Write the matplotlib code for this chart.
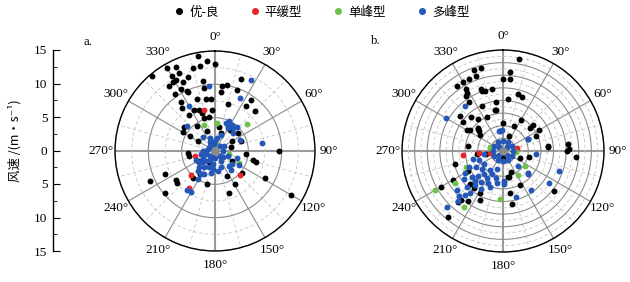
import numpy as np
import matplotlib
matplotlib.use('Agg')
import matplotlib.pyplot as plt
from matplotlib.lines import Line2D

plt.rcParams['font.family'] = ['Liberation Serif', 'Noto Sans CJK SC', 'DejaVu Sans']

# categories / colours
cats = ['优-良', '平缓型', '单峰型', '多峰型']
colors = ['black', '#e8262a', '#6cc24a', '#2457b8']

# ---- panel a: (direction deg, speed m/s) ----
a_good = [(320,14.7),(330,14.4),(335,13.9),(335,12.9),(330,13.0),(329,12.1),(331,12.1),(325,11.9),
          (325,10.4),(331,10.6),(335,11.4),(335,10.0),(335,9.7),(340,11.8),(345,12.9),(350,13.0),
          (350,14.5),(355,13.5),(0,13.0),(350,10.7),(350,9.6),(341,8.3),(350,7.9),(356,7.8),(356,6.2),
          (325,9.0),(322,8.1),(324,6.6),(333,6.9),(338,6.6),(341,6.0),(341,5.2),(350,5.2),(6,9.8),
          (6,8.9),(10,10.0),(20,9.8),(15,7.3),(20,11.5),(35,9.4),(35,8.2),(45,8.5),(308,5.9),(301,4.4),
          (325,4.6),(338,3.3),(35,3.9),(52,4.4),(301,5.6),(90,9.6),(120,13.2),(119,8.5),(129,5.2),
          (149,5.7),(162,6.7),(155,4.1),(104,5.8),(105,6.4),(95,4.6),(194,5.1),(213,4.1),(219,5.2),
          (245,8.3),(245,10.8),(234,7.3),(230,7.5),(230,9.8),(266,4.0),(259,4.0),(240,3.0),(18,2.8),
          (60,3.0),(75,2.5),(120,3.0),(200,2.0),(300,3.0),(10,3.6),(70,4.2)]
a_flat = [(345,6.4),(225,5.1),(134,5.2),(215,6.8),(255,3.1)]
a_single = [(337,4.2),(5,4.2),(50,6.2),(116,4.0),(103,2.1),(30,1.0)]
a_multi = [(27,12.0),(355,9.8),(25,8.8),(330,7.8),(312,5.7),(319,2.7),(215,7.2),(210,7.1),(211,4.9),
           (211,4.1),(191,3.3),(185,2.75),(136,3.1),(126,3.2),(107,3.4),(80,7.2),(28,4.3),(33,4.6),
           (38,4.4),(42,4.9),(25,5.0),(30,4.0),(22,4.5),(45,3.8),(66,4.1),(200,1.0),(210,1.5),(220,2.0),
           (230,2.5),(240,2.0),(250,1.5),(260,2.2),(270,1.8),(280,1.2),(190,2.0),(180,1.0),(200,2.5),
           (215,3.0),(225,3.5),(235,3.0),(245,3.2),(220,4.0),(205,3.8),(350,1.0),(0,1.5),(10,2.0),
           (20,2.5),(340,2.0),(330,1.5),(300,1.0),(60,1.5),(90,1.2),(110,2.0),(130,1.5),(150,1.8),
           (160,2.5),(170,3.0),(140,3.8),(120,4.2),(45,1.0),(135,1.0),(225,1.0),(315,1.0)]

# ---- panel b ----
b_good = [(10,7.4),(5,6.3),(5.5,5.75),(0,5.7),(5,4.1),(15,4.7),(19.5,4.5),(345,6.8),(340,6.8),(340,6.3),
          (335,6.3),(330,6.3),(325,6.3),(329,5.7),(328,5.4),(340,5.2),(341,5.0),(343,5.0),(350,5.0),
          (325,4.7),(352,3.9),(351,3.3),(335,3.0),(322,3.25),(316,3.7),(309,4.4),(306,3.9),(311,2.6),
          (313,2.7),(300,3.3),(305,2.2),(0,2.2),(21,1.3),(30,2.8),(50,2.8),(49,3.1),(60,3.3),(65,2.85),
          (24,2.2),(84,3.6),(84,5.2),(88,5.2),(95,5.8),(90,5.1),(85,3.55),(128,5.1),(154,3.0),(170,4.3),
          (171,3.4),(169,2.1),(160,1.8),(103,2.1),(111,1.45),(255,3.9),(240,4.6),(240,5.7),(225,3.7),
          (218,3.7),(209,3.8),(205,4.3),(215,4.8),(221,5.4),(221,5.1),(220,6.8),(241,3.2),(264,2.1),
          (180,0.5),(259,1.4),(326,5.3),(310,2.5),(278,2.8),(349,3.3),(302,3.1),(335,3.9),(166,2.1)]
b_flat = [(265,3.2),(263,1.05),(79,1.1),(265,1.9)]
b_single = [(240,6.2),(215,5.4),(236,4.6),(184,3.8),(246,3.2),(125,2.1),(148,2.2),(284,1.05),(93,1.0),
            (286,1.1)]
b_multi = [(320,4.65),(300,5.2),(349,1.6),(64,2.2),(65,2.2),(356,1.7),(110,4.7),(125,4.4),(144.5,3.8),
           (164,3.8),(132.6,2.7),(134,1.7),(95,2.6),(178,2.6),(191,2.6),(225,6.3),(229.7,4.8),(224.8,5.0),
           (220.3,4.6),(351,1.6),(200,1.5),(205,2.0),(210,2.5),(215,3.0),(220,3.5),(225,2.8),(230,2.2),
           (235,1.8),(240,2.5),(245,3.0),(250,2.0),(215,1.8),(220,2.4),(230,3.2),(210,3.5),(200,3.0),
           (195,2.2),(240,3.5),(225,4.0),(235,3.8),(255,2.5),(260,1.5),(205,2.8),(218,4.2),(222,5.3),
           (223,3.3),(179,2.4),(131,2.66),(0,0.8),(30,0.8),(60,0.8),(90,0.8),(120,0.8),(150,0.8),
           (180,0.8),(210,0.8),(240,0.8),(270,0.8),(300,0.8),(330,0.8),(45,0.5),(135,0.5),(225,0.5),
           (315,0.5)]

angle_labels = ['0°', '30°', '60°', '90°', '120°', '150°', '180°', '210°', '240°', '270°', '300°', '330°']
speed_ticks = [-15, -10, -5, 0, 5, 10, 15]


def polar_panel(rect, data, rmax, major_r, minor_r, tag):
    ax = fig.add_axes(rect, projection='polar')
    ax.set_theta_zero_location('N')
    ax.set_theta_direction(-1)
    ax.set_axisbelow(True)
    for pts, c in zip(data, colors):
        th = np.deg2rad([p[0] for p in pts])
        r = [p[1] for p in pts]
        ax.scatter(th, r, s=18, c=c, linewidths=0, zorder=3)
    ax.plot(0, 0, 'o', color='#8a8a8a', ms=5, zorder=4)
    ax.set_ylim(0, rmax)
    ax.set_xticks(np.deg2rad(np.arange(0, 360, 30)))
    ax.set_xticklabels(angle_labels, fontsize=9.5)
    ax.set_xticks(np.deg2rad(np.arange(15, 360, 30)), minor=True)
    ax.set_yticks(major_r)
    ax.set_yticks(minor_r, minor=True)
    ax.set_yticklabels([])
    ax.tick_params(axis='y', which='both', length=0)
    ax.tick_params(axis='x', which='both', direction='in', length=4, color='black', pad=3)
    ax.grid(True, which='major', color='#8c8c8c', lw=0.8, ls='-')
    ax.grid(True, which='minor', color='#c4c4c4', lw=0.6, ls=(0, (4, 3)))
    for tick, loc in zip(ax.xaxis.get_major_ticks(), ax.get_xticks()):
        if int(round(np.rad2deg(loc))) % 90 == 0:
            tick.gridline.set_linewidth(1.5)
            tick.gridline.set_color('#9a9a9a')
    ax.spines['polar'].set_color('black')
    ax.spines['polar'].set_linewidth(1.0)
    fig.text(rect[0] - 0.05, rect[1] + rect[3] + 0.02, tag, fontsize=9)
    return ax


fig = plt.figure(figsize=(6.3, 2.82), dpi=100)

polar_panel([115/630, 31/282, 200/630, 200/282], [a_good, a_flat, a_single, a_multi],
            15, [5, 10, 15], [2.5, 7.5, 12.5], 'a.')
polar_panel([402/630, 30/282, 202/630, 202/282], [b_good, b_flat, b_single, b_multi],
            8, list(range(1, 9)), list(np.arange(0.5, 8, 1.0)), 'b.')

# speed scale on the left
ax0 = fig.add_axes([53/630, 31/282, 0.0001, 201/282])
ax0.set_ylim(15, -15)
ax0.set_yticks(speed_ticks)
ax0.set_yticklabels([str(abs(v)) for v in speed_ticks], fontsize=9.5)
ax0.set_yticks(np.arange(-12.5, 15, 5), minor=True)
ax0.tick_params(axis='y', which='major', direction='in', length=5, pad=4)
ax0.tick_params(axis='y', which='minor', direction='in', length=3)
ax0.set_xticks([])
for s in ['top', 'right', 'bottom']:
    ax0.spines[s].set_visible(False)
ax0.spines['left'].set_linewidth(1.0)
fig.text(0.024, 0.50, '风速 /(m·s⁻¹)', rotation=90, va='center', ha='center', fontsize=9,
         family=['Noto Sans CJK SC', 'DejaVu Sans'])

handles = [Line2D([], [], ls='none', marker='o', ms=4, color=c) for c in colors]
fig.legend(handles, cats, loc='upper center', bbox_to_anchor=(0.51, 1.02), ncol=4, frameon=False,
           handletextpad=0.3, columnspacing=2.4, handlelength=1.0,
           prop={'family': ['Noto Sans CJK SC', 'DejaVu Sans'], 'size': 9})

fig.savefig('out.png', dpi=100)
